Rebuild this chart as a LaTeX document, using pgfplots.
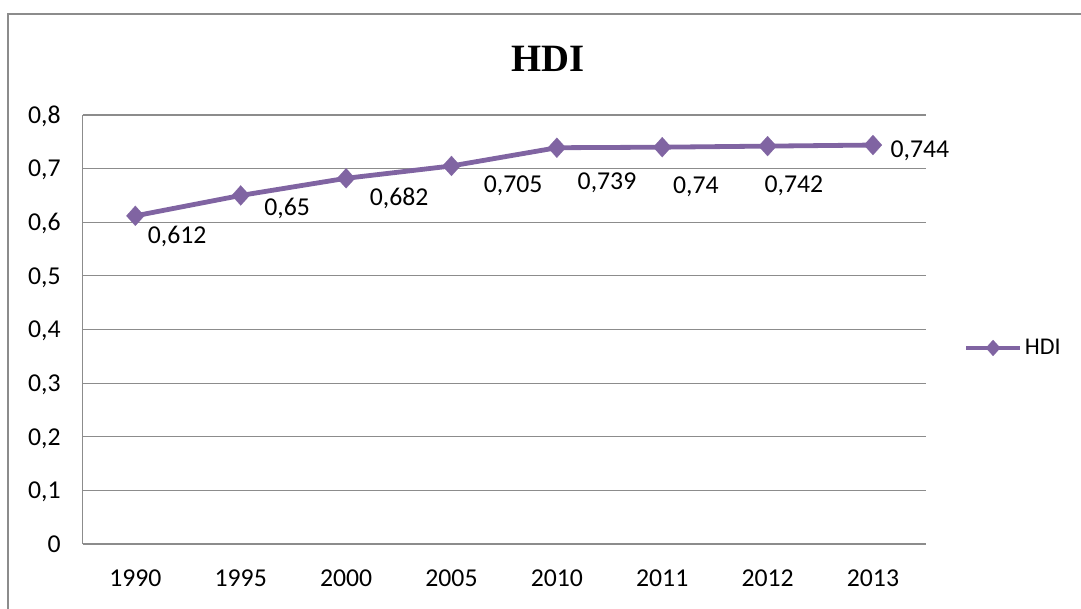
\documentclass[border=0pt]{standalone}
\usepackage{pgfplots}
\pgfplotsset{compat=1.18}
\usepackage{pgfplotstable}
\usepackage{fontspec}
\setmainfont{Carlito}
\newfontfamily\titlefont{Liberation Serif}
\definecolor{hdi}{HTML}{8064A2}
\definecolor{gridc}{HTML}{8C8C8C}
\pgfplotstableread{
x y
0 0.612
1 0.65
2 0.682
3 0.705
4 0.739
5 0.74
6 0.742
7 0.744
}\hditable
\begin{document}
\begin{tikzpicture}[x=1pt,y=1pt]
\useasboundingbox (0,0) rectangle (810.75,456);
\draw[gridc, line width=1.5pt] (6,-5) -- (6,445.5) -- (820,445.5);
\node[anchor=base, font=\titlefont\bfseries\fontsize{29}{29}\selectfont] at (411,402) {HDI};
\begin{axis}[
  at={(62pt,48pt)}, anchor=south west,
  scale only axis, width=632.25pt, height=321.75pt,
  xmin=-0.5, xmax=7.5, ymin=0, ymax=0.8,
  xtick={0,1,2,3,4,5,6,7},
  xticklabels={1990,1995,2000,2005,2010,2011,2012,2013},
  ytick={0,0.1,0.2,0.3,0.4,0.5,0.6,0.7,0.8},
  /pgf/number format/.cd, fixed, precision=1, use comma, assume math mode=true,
  /pgfplots/.cd,
  ymajorgrids, grid style={gridc, line width=0.8pt},
  axis x line*=bottom, axis y line*=left,
  axis line style={gridc, line width=0.8pt},
  major tick length=0pt,
  tick label style={font=\fontsize{19.3}{19.3}\selectfont, text depth=0pt, black},
  yticklabel style={xshift=-13pt},
  xticklabel style={yshift=-15.5pt},
  legend style={at={(1.0455,0.457)}, anchor=west, draw=none, fill=none,
    inner sep=0pt, outer sep=0pt, font=\fontsize{18}{18}\selectfont},
  legend cell align=left,
  legend image code/.code={
    \draw[#1, mark size=6pt, mark repeat=2, mark phase=2] plot coordinates {(0pt,0pt) (20pt,0pt) (40pt,0pt)};
  },
  clip=false,
]
\addplot[hdi, line width=3.6pt, mark=diamond*, mark size=7.5pt, mark options={fill=hdi, draw=hdi, line width=0.1pt, xscale=1.2}] table[x=x,y=y] {\hditable};
\addlegendentry{HDI}
\begin{scope}[every node/.style={anchor=base, font=\fontsize{19.3}{19.3}\selectfont}]
\node at (axis cs:0.397,0.561) {0,612};
\node at (axis cs:1.440,0.6135) {0,65};
\node at (axis cs:2.503,0.632) {0,682};
\node at (axis cs:3.585,0.656) {0,705};
\node at (axis cs:4.476,0.662) {0,739};
\node at (axis cs:5.320,0.6545) {0,74};
\node at (axis cs:6.250,0.656) {0,742};
\node at (axis cs:7.445,0.7217) {0,744};
\end{scope}
\end{axis}
\end{tikzpicture}
\end{document}
